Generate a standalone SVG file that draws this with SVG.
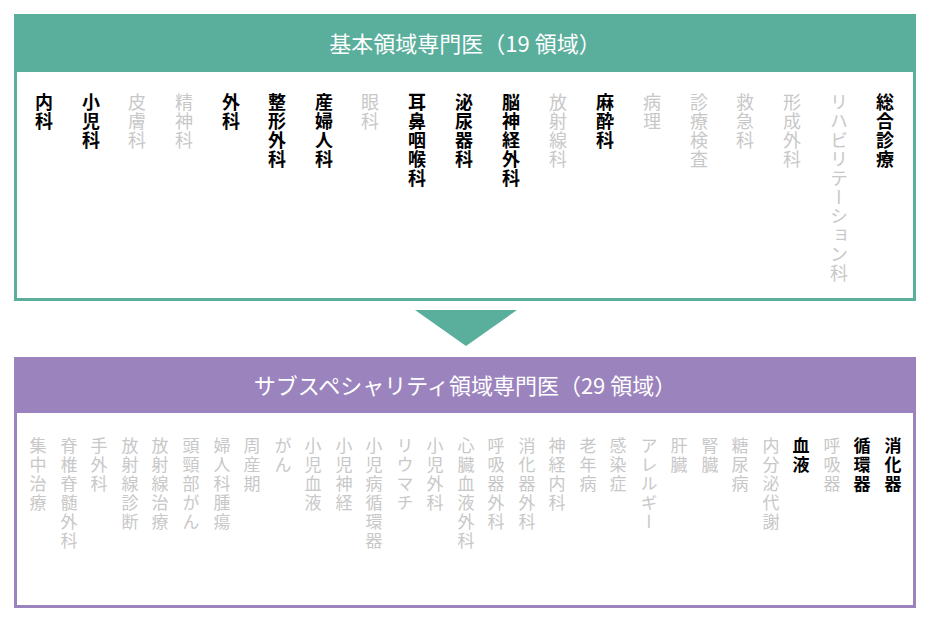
<svg xmlns="http://www.w3.org/2000/svg" width="930" height="622" viewBox="0 0 930 622">
<style>
text{font-family:"Noto Sans CJK JP","Noto Sans",sans-serif}
.h{fill:#fff;font-size:22px;text-anchor:middle}
.v{writing-mode:vertical-rl;font-size:18px;letter-spacing:1px}
.s{writing-mode:vertical-rl;font-size:17px;letter-spacing:2px}
.b{fill:#000;font-weight:bold}
.g{fill:#c8c8c8}
</style>
<rect width="930" height="622" fill="#fff"/>
<g id="basic">
<rect x="15.5" y="15.5" width="899" height="284" fill="#fff" stroke="#5aae9c" stroke-width="3"/>
<rect x="14" y="14" width="902" height="58" fill="#5aae9c"/>
<text class="h" x="465" y="52">基本領域専門医（19 領域）</text>
<text class="v b" x="44" y="93">内科</text>
<text class="v b" x="91" y="93">小児科</text>
<text class="v g" x="137" y="93">皮膚科</text>
<text class="v g" x="184" y="93">精神科</text>
<text class="v b" x="231" y="93">外科</text>
<text class="v b" x="277" y="93">整形外科</text>
<text class="v b" x="324" y="93">産婦人科</text>
<text class="v g" x="370" y="93">眼科</text>
<text class="v b" x="417" y="93">耳鼻咽喉科</text>
<text class="v b" x="464" y="93">泌尿器科</text>
<text class="v b" x="511" y="93">脳神経外科</text>
<text class="v g" x="558" y="93">放射線科</text>
<text class="v b" x="605" y="93">麻酔科</text>
<text class="v g" x="652" y="93">病理</text>
<text class="v g" x="699" y="93">診療検査</text>
<text class="v g" x="745" y="93">救急科</text>
<text class="v g" x="792" y="93">形成外科</text>
<text class="v g" x="839" y="93">リハビリテーション科</text>
<text class="v b" x="885" y="93">総合診療</text>
</g>
<g id="connectors">
<polygon points="415,310 517,310 466,346" fill="#5aae9c"/>
</g>
<g id="sub">
<rect x="15.5" y="358.5" width="899" height="248" fill="#fff" stroke="#9b83bd" stroke-width="3"/>
<rect x="14" y="357" width="902" height="56" fill="#9b83bd"/>
<text class="h" x="465" y="394">サブスペシャリティ領域専門医（29 領域）</text>
<text class="s g" x="38" y="437">集中治療</text>
<text class="s g" x="69" y="437">脊椎脊髄外科</text>
<text class="s g" x="99" y="437">手外科</text>
<text class="s g" x="130" y="437">放射線診断</text>
<text class="s g" x="160" y="437">放射線治療</text>
<text class="s g" x="191" y="437">頭頸部がん</text>
<text class="s g" x="222" y="437">婦人科腫瘍</text>
<text class="s g" x="252" y="437">周産期</text>
<text class="s g" x="283" y="437">がん</text>
<text class="s g" x="313" y="437">小児血液</text>
<text class="s g" x="344" y="437">小児神経</text>
<text class="s g" x="374" y="437">小児病循環器</text>
<text class="s g" x="405" y="437">リウマチ</text>
<text class="s g" x="435" y="437">小児外科</text>
<text class="s g" x="466" y="437">心臓血液外科</text>
<text class="s g" x="496" y="437">呼吸器外科</text>
<text class="s g" x="527" y="437">消化器外科</text>
<text class="s g" x="557" y="437">神経内科</text>
<text class="s g" x="588" y="437">老年病</text>
<text class="s g" x="618" y="437">感染症</text>
<text class="s g" x="649" y="437">アレルギー</text>
<text class="s g" x="679" y="437">肝臓</text>
<text class="s g" x="710" y="437">腎臓</text>
<text class="s g" x="740" y="437">糖尿病</text>
<text class="s g" x="771" y="437">内分泌代謝</text>
<text class="s b" x="801" y="437">血液</text>
<text class="s g" x="832" y="437">呼吸器</text>
<text class="s b" x="862" y="437">循環器</text>
<text class="s b" x="893" y="437">消化器</text>
</g>
</svg>
